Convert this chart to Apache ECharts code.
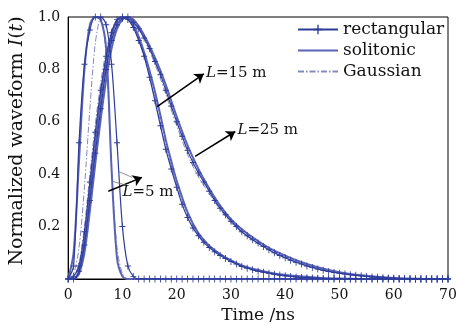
<!DOCTYPE html>
<html><head><meta charset="utf-8">
<script src="https://cdn.jsdelivr.net/npm/echarts@6/dist/echarts.min.js"></script>
<style>html,body{margin:0;padding:0;background:#fff}#c{width:462px;height:329px}</style>
</head><body><div id="c"></div>
<script>
// Time axis (ns) for rectangular pulses (one marker per ns)
const timeNs = [0,1,2,3,4,5,6,7,8,9,10,11,12,13,14,15,16,17,18,19,20,21,22,23,24,25,26,27,28,29,30,31,32,33,34,35,36,37,38,39,40,41,42,43,44,45,46,47,48,49,50,51,52,53,54,55,56,57,58,59,60,61,62,63,64,65,66,67,68,69,70];
// Time axis (ns) for solitonic / Gaussian pulses
const timeC = [0,1,2,3,4,5,6,7,8,9,10,11,12,13,14,15,16,17,18,19,20,22,24,26,28,30,32,35,38,42,46,50,55,60,65,70];

// rectangular input pulse
const rect5  = [0,0.05,0.52,0.82,0.95,1.0,1.0,0.97,0.82,0.52,0.2,0.05,0.01,0,0,0,0,0,0,0,0,0,0,0,0,0,0,0,0,0,0,0,0,0,0,0,0,0,0,0,0,0,0,0,0,0,0,0,0,0,0,0,0,0,0,0,0,0,0,0,0,0,0,0,0,0,0,0,0,0,0];
const rect15 = [0,0.01,0.05,0.18,0.37,0.56,0.72,0.85,0.94,0.99,1.0,0.99,0.96,0.91,0.85,0.77,0.68,0.585,0.495,0.42,0.35,0.285,0.235,0.195,0.165,0.14,0.12,0.104,0.09,0.078,0.067,0.057,0.048,0.041,0.035,0.03,0.026,0.022,0.018,0.015,0.012,0.01,0.008,0.006,0.005,0.004,0.003,0.002,0.001,0.001,0,0,0,0,0,0,0,0,0,0,0,0,0,0,0,0,0,0,0,0,0];
const rect25 = [0,0,0.03,0.13,0.3,0.48,0.65,0.8,0.91,0.97,0.995,1.0,0.98,0.955,0.92,0.88,0.83,0.78,0.72,0.66,0.6,0.545,0.49,0.445,0.405,0.37,0.335,0.3,0.27,0.245,0.22,0.2,0.18,0.165,0.15,0.137,0.124,0.112,0.1,0.09,0.081,0.072,0.064,0.057,0.05,0.044,0.038,0.033,0.029,0.025,0.022,0.019,0.016,0.014,0.012,0.01,0.008,0.007,0.005,0.004,0.003,0.002,0.001,0.001,0,0,0,0,0,0,0];
// solitonic input pulse
const sol5  = [0,0.1,0.45,0.8,0.97,1.0,0.99,0.88,0.42,0.08,0.01,0,0,0,0,0,0,0,0,0,0,0,0,0,0,0,0,0,0,0,0,0,0,0,0,0];
const sol15 = [0,0,0.03,0.14,0.33,0.52,0.69,0.83,0.93,0.985,1.0,0.993,0.97,0.925,0.865,0.795,0.715,0.625,0.53,0.45,0.375,0.255,0.175,0.127,0.095,0.071,0.052,0.034,0.021,0.011,0.005,0.002,0,0,0,0];
const sol25 = [0,0,0.02,0.1,0.26,0.44,0.61,0.76,0.88,0.955,0.99,1.0,0.99,0.965,0.93,0.89,0.845,0.795,0.74,0.68,0.62,0.51,0.42,0.345,0.28,0.228,0.19,0.145,0.108,0.072,0.045,0.026,0.012,0.004,0.001,0];
// Gaussian input pulse
const gau5  = [0,0.02,0.12,0.35,0.65,0.9,1.0,0.85,0.42,0.12,0.02,0,0,0,0,0,0,0,0,0,0,0,0,0,0,0,0,0,0,0,0,0,0,0,0,0];
const gau15 = [0,0.01,0.06,0.2,0.4,0.59,0.75,0.87,0.95,0.99,1.0,0.99,0.965,0.915,0.85,0.775,0.69,0.6,0.51,0.43,0.36,0.245,0.17,0.123,0.092,0.068,0.05,0.032,0.02,0.01,0.004,0.001,0,0,0,0];
const gau25 = [0,0.01,0.05,0.16,0.33,0.5,0.66,0.8,0.9,0.965,0.995,1.0,0.985,0.955,0.915,0.87,0.82,0.765,0.705,0.645,0.585,0.475,0.39,0.325,0.265,0.215,0.178,0.135,0.1,0.066,0.042,0.024,0.011,0.004,0.001,0];

const xTicks = [0,10,20,30,40,50,60,70];
const yTicks = [0.2,0.4,0.6,0.8,1.0];

// annotations: [label, arrow tail (t, I), arrow head (t, I), label anchor (t, I)]
const annoLabels = ['15', '25', '5'];
const annoTail = [[16.4,0.658],[23.4,0.468],[7.4,0.335]];
const annoHead = [[25.0,0.783],[30.8,0.563],[13.6,0.388]];
const annoText = [[25.4,0.787],[31.2,0.568],[10.0,0.331]];
const guideFrom = [[9.2,0.411],[8.1,0.373]];
const guideTo = [[11.8,0.388],[10.9,0.357]];

const FONT = 'DejaVu Serif';
const cRect = '#2d3c9c', cSol = '#5b63b4', cGau = '#8589c2';
const plus = 'path://M4.3,0H5.7V4.3H10V5.7H5.7V10H4.3V5.7H0V4.3H4.3Z';

function zip(t, v){ return t.map((x,i)=>[x, v[i]]); }

function rectSeries(v){
  return {name:'rectangular', type:'line', data: zip(timeNs, v), symbol: plus, symbolSize:[6,7],
    showSymbol:true, showAllSymbol:true, smooth:0.3, z:4,
    lineStyle:{color:cRect, width:1.2}, itemStyle:{color:cRect}};
}
function solSeries(v){
  return {name:'solitonic', type:'line', data: zip(timeC, v), symbol:'none', smooth:0.3, z:3,
    lineStyle:{color:cSol, width:2}, itemStyle:{color:cSol}};
}
function gauSeries(v){
  return {name:'Gaussian', type:'line', data: zip(timeC, v), symbol:'none', smooth:0.3, z:2,
    lineStyle:{color:cGau, width:1, type:[6,2,1.5,2]}, itemStyle:{color:cGau}};
}

const rich = {
  i:{fontFamily:FONT, fontStyle:'italic', fontSize:15, color:'#111'},
  n:{fontFamily:FONT, fontSize:15, color:'#111'}
};

const annoSeries = {
  name:'anno', type:'line', data:[], z:10, silent:true,
  markLine:{silent:true, animation:false, symbol:['none','arrow'], symbolSize:[0,9],
    label:{show:false},
    data: annoTail.map((p,i)=>[{coord:p, symbol:'none'},{coord:annoHead[i], symbol:'arrow', symbolSize:9}])
      .concat(guideFrom.map((p,i)=>[{coord:p, symbol:'none', lineStyle:{color:'#777', width:0.8}},{coord:guideTo[i], symbol:'none'}])),
    lineStyle:{color:'#000', width:1.5, type:'solid'}},
  markPoint:{silent:true, animation:false, symbol:'circle', symbolSize:0,
    data: annoText.map((p,i)=>({coord:p, label:{show:true, position:'right', distance:0,
      formatter:'{i|L}{n|=' + annoLabels[i] + ' m}', rich:rich}}))}
};

const chart = echarts.init(document.getElementById('c'), null, {renderer:'canvas'});
chart.setOption({
  animation:false,
  backgroundColor:'#fff',
  grid:{left:68, right:14, top:17, bottom:49, show:true, borderColor:'#000', borderWidth:1, backgroundColor:'transparent'},
  legend:{orient:'vertical', left:292, top:16, itemWidth:40, itemHeight:12, itemGap:4,
    data:['rectangular',
          {name:'solitonic', itemStyle:{opacity:0}},
          {name:'Gaussian', itemStyle:{opacity:0}}],
    textStyle:{fontFamily:FONT, fontSize:17, color:'#111', lineHeight:17}},
  xAxis:{type:'value', min:0, max:70, interval:10,
    name:'Time /ns', nameLocation:'middle', nameGap:28,
    nameTextStyle:{fontFamily:FONT, fontSize:17, color:'#111'},
    axisLine:{lineStyle:{color:'#000', width:1}}, axisTick:{show:false}, splitLine:{show:false},
    axisLabel:{fontFamily:FONT, fontSize:14, color:'#111', margin:9,
      formatter:v=> xTicks.indexOf(v)>=0 ? String(v) : ''}},
  yAxis:{type:'value', min:0, max:1, interval:0.2,
    name:'{n|Normalized waveform }{i|I}{n|(}{i|t}{n|)}', nameLocation:'middle', nameGap:40, nameRotate:90,
    nameTextStyle:{padding:[0,0,0,14], rich:{n:{fontFamily:FONT, fontSize:19, color:'#111'}, i:{fontFamily:FONT, fontSize:19, fontStyle:'italic', color:'#111'}}},
    axisLine:{lineStyle:{color:'#000', width:1}}, axisTick:{show:false}, splitLine:{show:false},
    axisLabel:{fontFamily:FONT, fontSize:14, color:'#111', margin:8,
      formatter:v=>{ const k = yTicks.findIndex(t=>Math.abs(t-v)<1e-6); return k>=0 ? yTicks[k].toFixed(1) : ''; }}},
  series:[
    gauSeries(gau5), gauSeries(gau15), gauSeries(gau25),
    solSeries(sol5), solSeries(sol15), solSeries(sol25),
    rectSeries(rect5), rectSeries(rect15), rectSeries(rect25),
    annoSeries
  ]
});
</script></body></html>
